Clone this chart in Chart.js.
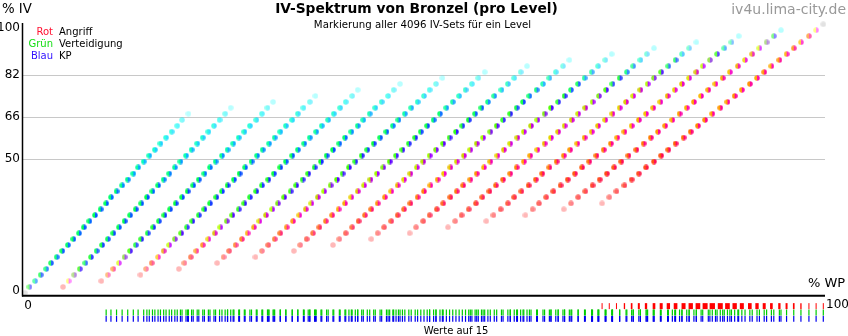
<!DOCTYPE html>
<html><head><meta charset="utf-8">
<script src="https://cdn.jsdelivr.net/npm/chart.js@4/dist/chart.umd.min.js"></script>
<style>html,body{margin:0;padding:0;background:#fff}#wrap{width:848px;height:336px}</style>
</head><body><div id="wrap"><canvas id="c" width="848" height="336"></canvas></div>
<script>
// ---- data ----
// IV-% levels (IV sum 0..45)
const ivLevels = [0,2.2,4.4,6.7,8.9,11.1,13.3,15.6,17.8,20.0,22.2,24.4,26.7,28.9,31.1,33.3,35.6,37.8,40.0,42.2,44.4,46.7,48.9,51.1,53.3,55.6,57.8,60.0,62.2,64.4,66.7,68.9,71.1,73.3,75.6,77.8,80.0,82.2,84.4,86.7,88.9,91.1,93.3,95.6,97.8,100];
// % WP of every dot, one diagonal per attack IV (0..15), rows = DEF+KP 0..30
const line00 = [0.0,0.6,1.3,2.0,2.7,3.3,4.0,4.7,5.4,6.1,6.8,7.4,8.1,8.8,9.5,10.2,10.8,11.5,12.2,12.9,13.6,14.2,14.9,15.6,16.3,17.0,17.7,18.4,19.1,19.7,20.5];
const line01 = [4.8,5.5,6.2,6.9,7.6,8.3,9.0,9.7,10.4,11.1,11.8,12.5,13.2,13.9,14.6,15.3,16.0,16.7,17.4,18.1,18.8,19.5,20.2,20.9,21.6,22.3,23.0,23.7,24.4,25.1,25.8];
const line02 = [9.6,10.4,11.1,11.8,12.5,13.2,13.9,14.6,15.4,16.1,16.8,17.5,18.2,18.9,19.7,20.4,21.1,21.8,22.5,23.2,23.9,24.7,25.4,26.1,26.8,27.5,28.2,29.0,29.7,30.4,31.1];
const line03 = [14.5,15.2,15.9,16.7,17.4,18.1,18.8,19.6,20.3,21.0,21.8,22.5,23.2,24.0,24.7,25.4,26.2,26.9,27.6,28.4,29.1,29.8,30.6,31.3,32.0,32.7,33.5,34.2,34.9,35.7,36.4];
const line04 = [19.3,20.0,20.8,21.5,22.3,23.0,23.8,24.5,25.3,26.0,26.8,27.5,28.2,29.0,29.7,30.5,31.2,32.0,32.7,33.5,34.2,35.0,35.7,36.5,37.2,38.0,38.7,39.5,40.2,41.0,41.7];
const line05 = [24.1,24.9,25.6,26.4,27.2,27.9,28.7,29.4,30.2,31.0,31.7,32.5,33.3,34.0,34.8,35.5,36.3,37.1,37.8,38.6,39.4,40.1,40.9,41.7,42.4,43.2,43.9,44.7,45.5,46.2,47.0];
const line06 = [28.9,29.7,30.5,31.3,32.0,32.8,33.6,34.4,35.2,35.9,36.7,37.5,38.3,39.1,39.8,40.6,41.4,42.2,42.9,43.7,44.5,45.3,46.1,46.8,47.6,48.4,49.2,50.0,50.7,51.5,52.3];
const line07 = [33.7,34.5,35.3,36.1,36.9,37.7,38.5,39.3,40.1,40.9,41.7,42.5,43.3,44.1,44.9,45.7,46.5,47.3,48.1,48.9,49.6,50.4,51.2,52.0,52.8,53.6,54.4,55.2,56.0,56.8,57.6];
const line08 = [38.6,39.4,40.2,41.0,41.8,42.6,43.4,44.2,45.1,45.9,46.7,47.5,48.3,49.1,49.9,50.7,51.5,52.4,53.2,54.0,54.8,55.6,56.4,57.2,58.0,58.8,59.7,60.5,61.3,62.1,62.9];
const line09 = [43.4,44.2,45.0,45.9,46.7,47.5,48.3,49.2,50.0,50.8,51.7,52.5,53.3,54.1,55.0,55.8,56.6,57.4,58.3,59.1,59.9,60.8,61.6,62.4,63.2,64.1,64.9,65.7,66.5,67.4,68.2];
const line10 = [48.2,49.0,49.9,50.7,51.6,52.4,53.3,54.1,54.9,55.8,56.6,57.5,58.3,59.2,60.0,60.8,61.7,62.5,63.4,64.2,65.1,65.9,66.8,67.6,68.4,69.3,70.1,71.0,71.8,72.7,73.5];
const line11 = [53.0,53.9,54.7,55.6,56.5,57.3,58.2,59.0,59.9,60.8,61.6,62.5,63.3,64.2,65.1,65.9,66.8,67.6,68.5,69.3,70.2,71.1,71.9,72.8,73.6,74.5,75.4,76.2,77.1,77.9,78.8];
const line12 = [57.8,58.7,59.6,60.5,61.3,62.2,63.1,64.0,64.8,65.7,66.6,67.5,68.3,69.2,70.1,71.0,71.8,72.7,73.6,74.5,75.3,76.2,77.1,78.0,78.8,79.7,80.6,81.5,82.3,83.2,84.1];
const line13 = [62.7,63.6,64.4,65.3,66.2,67.1,68.0,68.9,69.8,70.7,71.6,72.5,73.4,74.2,75.1,76.0,76.9,77.8,78.7,79.6,80.5,81.4,82.3,83.2,84.1,84.9,85.8,86.7,87.6,88.5,89.4];
const line14 = [67.5,68.4,69.3,70.2,71.1,72.0,72.9,73.8,74.7,75.6,76.6,77.5,78.4,79.3,80.2,81.1,82.0,82.9,83.8,84.7,85.6,86.5,87.4,88.3,89.3,90.2,91.1,92.0,92.9,93.8,94.7];
const line15 = [72.3,73.2,74.1,75.1,76.0,76.9,77.8,78.8,79.7,80.6,81.5,82.5,83.4,84.3,85.2,86.1,87.1,88.0,88.9,89.8,90.8,91.7,92.6,93.5,94.5,95.4,96.3,97.2,98.2,99.1,100.0];
const lines = [line00,line01,line02,line03,line04,line05,line06,line07,line08,line09,line10,line11,line12,line13,line14,line15];
const yTickValues = [0,50,66,82,100];
const xTickLabels = ['0','100'];
const legendColorNames = ['Rot','Grün','Blau'];
const legendStatNames = ['Angriff','Verteidigung','KP'];
const tickRowIds = [1,2,3]; // Angriff, Verteidigung, KP rows ("Werte auf 15")

// ---- styles ----
const FONT = '"DejaVu Sans", Verdana, sans-serif';
function setCount(t) { return Math.min(t, 30 - t) + 1; }
// colour of one half of a dot: D-heavy sets (left) or KP-heavy sets (right)
function halfColor(a, t, side) {
  let r = 0, g = 0, b = 0, n = 0;
  for (let d = Math.max(0, t - 15); d <= Math.min(15, t); d++) {
    const s = t - d;
    if (side === 'D' ? d < s : s < d) continue;
    const v = [a, d, s];
    const mn = Math.min(...v), mx = Math.max(...v);
    const c = mx === mn ? [150, 150, 150] : v.map(q => (q - mn) / (mx - mn) * 255);
    r += c[0]; g += c[1]; b += c[2]; n++;
  }
  return `rgb(${(r/n)|0},${(g/n)|0},${(b/n)|0})`;
}
function dotImage(a, t) {
  const cv = document.createElement('canvas');
  cv.width = 6; cv.height = 6;
  const c = cv.getContext('2d');
  c.globalAlpha = 1 - Math.pow(0.72, setCount(t));
  [['D', 0], ['S', 3]].forEach(([side, x0]) => {
    c.save();
    c.beginPath(); c.rect(x0, 0, 3, 6); c.clip();
    c.fillStyle = halfColor(a, t, side);
    c.beginPath(); c.arc(3, 3, 2.75, 0, 2 * Math.PI); c.fill();
    c.restore();
  });
  return cv;
}

const dotPts = [], dotImgs = [];
lines.forEach((arr, a) => arr.forEach((xv, t) => {
  dotPts.push({x: xv, y: ivLevels[a + t]});
  dotImgs.push(dotImage(a, t));
}));
const redPts = line15.map(xv => ({x: xv, y: tickRowIds[0]}));
const redW = line15.map((_, t) => Math.max(1, setCount(t) / 3));
const greenPts = [], bluePts = [];
lines.forEach(arr => arr.forEach((xv, t) => {
  if (t >= 15) { greenPts.push({x: xv, y: tickRowIds[1]}); bluePts.push({x: xv, y: tickRowIds[2]}); }
}));

const decor = {
  id: 'decor',
  afterDatasetsDraw(chart) {
    const ctx = chart.ctx;
    ctx.save();
    ctx.strokeStyle = '#000';
    ctx.lineWidth = 1.5;
    ctx.beginPath(); ctx.moveTo(22.5, 23); ctx.lineTo(22.5, 296.5); ctx.stroke();
    ctx.lineWidth = 2;
    ctx.beginPath(); ctx.moveTo(22, 295.8); ctx.lineTo(825, 295.8); ctx.stroke();
    ctx.restore();
  },
  afterDraw(chart) {
    const ctx = chart.ctx;
    ctx.save();
    ctx.textBaseline = 'middle';
    ctx.fillStyle = '#000';
    ctx.font = `13.3px ${FONT}`;
    ctx.textAlign = 'left';
    ctx.fillText('% IV', 2, 9.5);
    ctx.font = `13px ${FONT}`;
    ctx.fillText('% WP', 808, 284);
    ctx.font = `12px ${FONT}`;
    ctx.textAlign = 'center';
    ctx.fillText(xTickLabels[0], 28, 305.5);
    ctx.textAlign = 'left';
    ctx.fillText(xTickLabels[1], 826, 305);
    ctx.font = `bold 13.8px ${FONT}`;
    ctx.textAlign = 'center';
    ctx.fillText('IV-Spektrum von Bronzel (pro Level)', 416.5, 9.5);
    ctx.font = `10.2px ${FONT}`;
    ctx.fillText('Markierung aller 4096 IV-Sets für ein Level', 422.5, 25);
    ctx.font = `10px ${FONT}`;
    ctx.fillText('Werte auf 15', 456, 331);
    ctx.font = `14px ${FONT}`;
    ctx.textAlign = 'right';
    ctx.fillStyle = '#999';
    ctx.fillText('iv4u.lima-city.de', 846, 10);
    ctx.font = `10px ${FONT}`;
    const cols = ['#ff1030', '#10dd10', '#3010ff'];
    const ys = [32.5, 44.5, 56.5];
    legendColorNames.forEach((nm, i) => {
      ctx.textAlign = 'right'; ctx.fillStyle = cols[i]; ctx.fillText(nm, 53, ys[i]);
      ctx.textAlign = 'left'; ctx.fillStyle = '#000'; ctx.fillText(legendStatNames[i], 59, ys[i]);
    });
    ctx.restore();
  }
};

new Chart(document.getElementById('c'), {
  type: 'scatter',
  data: {
    datasets: [
      {label: 'IV-Sets', data: dotPts, yAxisID: 'y', pointStyle: dotImgs, pointRadius: 3, clip: false},
      {label: 'Angriff 15', data: redPts, yAxisID: 'yRows', pointStyle: 'line', pointRotation: 90, pointRadius: 3, pointBorderColor: '#ff0000', pointBorderWidth: redW, clip: false},
      {label: 'Verteidigung 15', data: greenPts, yAxisID: 'yRows', pointStyle: 'line', pointRotation: 90, pointRadius: 3, pointBorderColor: '#00cc00', pointBorderWidth: 1.2, clip: false},
      {label: 'KP 15', data: bluePts, yAxisID: 'yRows', pointStyle: 'line', pointRotation: 90, pointRadius: 3, pointBorderColor: '#0000ee', pointBorderWidth: 1.2, clip: false}
    ]
  },
  options: {
    responsive: false, animation: false, devicePixelRatio: 1,
    layout: {padding: {left: 0, right: 23, top: 20, bottom: 10}},
    plugins: {legend: {display: false}, tooltip: {enabled: false}, title: {display: false}},
    scales: {
      x: {type: 'linear', min: -0.213, max: 100.213, display: false},
      y: {type: 'linear', min: -12.28, max: 101.60, display: false},
      yRows: {type: 'linear', min: -44.09, max: 4.10, reverse: true, display: false},
      yGrid: {
        type: 'linear', position: 'left', min: -13.49, max: 103.09,
        afterBuildTicks(s) { s.ticks = yTickValues.map(v => ({value: v})); },
        afterFit(s) { s.width = 23; },
        border: {display: false},
        grid: {drawTicks: false, lineWidth: 1, color: c => (c.tick && [50,66,82].includes(c.tick.value)) ? '#c8c8c8' : 'rgba(0,0,0,0)'},
        ticks: {padding: 3, color: '#000', autoSkip: false, font: {family: FONT, size: 12}, callback: v => String(v)}
      }
    }
  },
  plugins: [decor]
});
</script></body></html>
